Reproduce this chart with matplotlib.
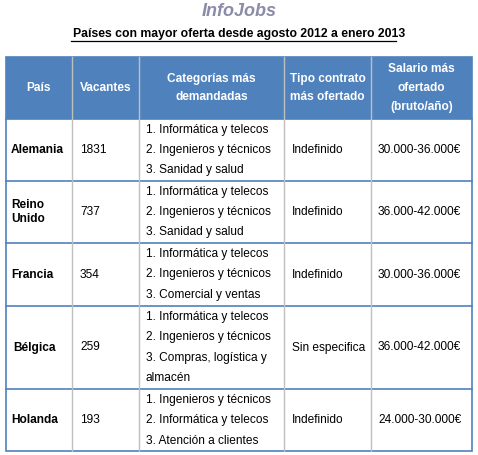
import matplotlib
matplotlib.use("Agg")
import matplotlib.pyplot as plt
from matplotlib.patches import Rectangle

plt.rcParams["font.family"] = ["Liberation Sans", "DejaVu Sans"]

title = "Países con mayor oferta desde agosto 2012 a enero 2013"
headers = ["País", "Vacantes", "Categorías más\ndemandadas",
           "Tipo contrato\nmás ofertado", "Salario más\nofertado\n(bruto/año)"]
paises = ["Alemania", "Reino\nUnido", "Francia", "Bélgica", "Holanda"]
vacantes = ["1831", "737", "354", "259", "193"]
categorias = [
    ["1. Informática y telecos", "2. Ingenieros y técnicos", "3. Sanidad y salud"],
    ["1. Informática y telecos", "2. Ingenieros y técnicos", "3. Sanidad y salud"],
    ["1. Informática y telecos", "2. Ingenieros y técnicos", "3. Comercial y ventas"],
    ["1. Informática y telecos", "2. Ingenieros y técnicos", "3. Compras, logística y", "almacén"],
    ["1. Ingenieros y técnicos", "2. Informática y telecos", "3. Atención a clientes"],
]
contratos = ["Indefinido", "Indefinido", "Indefinido", "Sin especifica", "Indefinido"]
salarios = ["30.000-36.000€", "36.000-42.000€", "30.000-36.000€", "36.000-42.000€", "24.000-30.000€"]

# layout in pixels
col_x = [6, 72, 139, 284, 371, 472]
row_y = [57, 119, 181, 243, 306, 389, 451]
blue = "#4f81bd"
gray = "#bfbfbf"
fs = 8.6
lh = 20.5

fig = plt.figure(figsize=(4.78, 4.55), dpi=100)
ax = fig.add_axes([0, 0, 1, 1])
ax.set_xlim(0, 478)
ax.set_ylim(455, 0)
ax.axis("off")

ax.text(239, 12, "InfoJobs", ha="center", va="center", fontsize=13, fontweight="bold",
        fontstyle="italic", color="#8a8ca8")
ax.text(239, 34, title, ha="center", va="center", fontsize=8.8, fontweight="bold")
ax.plot([71, 396], [41, 41], color="black", lw=0.9)

ax.add_patch(Rectangle((col_x[0], row_y[0]), col_x[-1] - col_x[0], row_y[1] - row_y[0],
                       facecolor=blue, edgecolor="none"))
for i, h in enumerate(headers):
    cx = (col_x[i] + col_x[i + 1]) / 2
    ax.text(cx, (row_y[0] + row_y[1]) / 2, h, ha="center", va="center", color="white",
            fontsize=fs, fontweight="bold", linespacing=1.75)

# grid lines
for y in row_y[1:-1]:
    ax.plot([col_x[0], col_x[-1]], [y, y], color=blue, lw=1.2)
for x in col_x[1:-1]:
    ax.plot([x, x], [row_y[0], row_y[-1]], color=gray, lw=1.0)
ax.add_patch(Rectangle((col_x[0], row_y[0]), col_x[-1] - col_x[0], row_y[-1] - row_y[0],
                       facecolor="none", edgecolor=blue, lw=1.2))

for r in range(len(paises)):
    y0, y1 = row_y[r + 1], row_y[r + 2]
    cy = (y0 + y1) / 2
    ax.text(col_x[0] + 5 if r != 3 else col_x[0] + 7, cy, paises[r], ha="left", va="center",
            fontsize=fs, fontweight="bold", linespacing=1.3)
    ax.text(col_x[1] + 8, cy, vacantes[r], ha="left", va="center", fontsize=fs)
    lines = categorias[r]
    start = cy - (len(lines) - 1) * lh / 2
    for k, line in enumerate(lines):
        ax.text(col_x[2] + 7, start + k * lh, line, ha="left", va="center", fontsize=fs)
    ax.text(col_x[3] + 8, cy, contratos[r], ha="left", va="center", fontsize=fs)
    ax.text(col_x[4] + 7, cy, salarios[r], ha="left", va="center", fontsize=fs)

fig.savefig("out.png", dpi=100)
